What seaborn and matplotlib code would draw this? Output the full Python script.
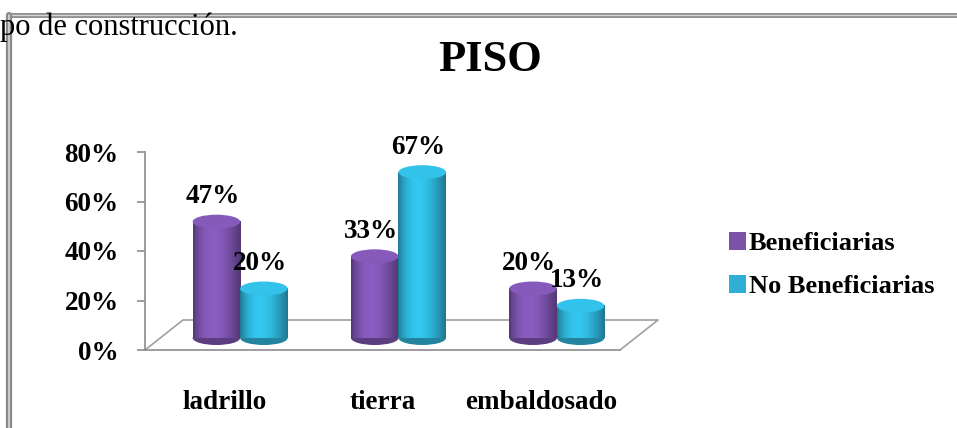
import numpy as np
import pandas as pd
import seaborn as sns
import matplotlib.pyplot as plt
from matplotlib.patches import Ellipse, Patch
from matplotlib.transforms import ScaledTranslation
from matplotlib.colors import to_rgb

categories = ["ladrillo", "tierra", "embaldosado"]
beneficiarias = [47, 33, 20]
no_beneficiarias = [20, 67, 13]
series = ["Beneficiarias", "No Beneficiarias"]
yticks = [0, 20, 40, 60, 80]

colors = ["#7a52aa", "#2eb0d4"]

df = pd.DataFrame({
    "tipo": categories * 2,
    "valor": beneficiarias + no_beneficiarias,
    "grupo": [series[0]] * 3 + [series[1]] * 3,
})

sns.set_style("white")
plt.rcParams["font.family"] = ["Liberation Serif", "DejaVu Serif"]
plt.rcParams["text.color"] = "black"
plt.rcParams["xtick.labelcolor"] = "black"
plt.rcParams["ytick.labelcolor"] = "black"

fs = 19.5

fig = plt.figure(figsize=(9.57, 4.28), dpi=100)
ax = fig.add_axes([145 / 957, 78 / 428, 475 / 957, 198 / 428])

sns.barplot(data=df, x="tipo", y="valor", hue="grupo", palette=colors,
            width=0.6, gap=0, legend=False, saturation=1, ax=ax)

ax.set_ylim(0, 80)
ax.set_xlim(-0.5, 2.5)
ax.set_yticks(yticks)
ax.set_yticklabels([f"{v}%" for v in yticks], fontsize=fs, fontweight="bold")
ax.set_xticks(range(3))
ax.set_xticklabels(categories, fontsize=fs, fontweight="bold")
ax.tick_params(axis="x", length=0, pad=29)
ax.set_xticks([-0.5, 0.5, 1.5, 2.5], minor=True)
ax.tick_params(axis="x", which="minor", length=6, color="#8c8c8c", width=1.2)
ax.tick_params(axis="y", length=6, color="#8c8c8c", width=1.2, pad=13, left=True)
ax.set_xlabel("")
ax.set_ylabel("")
for s in ["top", "right"]:
    ax.spines[s].set_visible(False)
for s in ["left", "bottom"]:
    ax.spines[s].set_color("#8c8c8c")
    ax.spines[s].set_linewidth(1.2)

# floor of the 3d box
ax.plot([0, 0.08, 1.08, 1.0], [0, 0.1515, 0.1515, 0], transform=ax.transAxes,
        color="#a0a0a0", lw=1.2, clip_on=False, zorder=0)

# shift bars into the floor depth
shift = ax.transData + ScaledTranslation(16 / 100, 12 / 100, fig.dpi_scale_trans)
px_per_unit = 198 / 80
cap_h = 14 / px_per_unit

bars = list(ax.patches)
for bar in bars:
    x0 = bar.get_x()
    w = bar.get_width()
    h = bar.get_height()
    base = np.array(to_rgb(bar.get_facecolor()))
    bar.set_visible(False)
    # cylinder shading
    shade = np.linspace(0, 1, 64)
    factor = 0.68 + 0.45 * np.sin(np.pi * shade ** 0.8)
    grad = np.clip(base[None, :] * factor[:, None], 0, 1)[None, :, :]
    ax.add_patch(Ellipse((x0 + w / 2, 0), w, cap_h, transform=shift,
                         facecolor=base * 0.75, edgecolor="none", zorder=2))
    ax.imshow(grad, extent=(x0, x0 + w, 0, h), transform=shift,
              aspect="auto", zorder=3, interpolation="bilinear")
    ax.add_patch(Ellipse((x0 + w / 2, h), w, cap_h, transform=shift,
                         facecolor=np.clip(base * 1.1, 0, 1), edgecolor="none", zorder=4))
    ax.annotate(f"{h:.0f}%", xy=(x0 + w / 2, h), xycoords=shift,
                xytext=(-4, 25), textcoords="offset pixels", ha="center",
                va="center", fontsize=fs, fontweight="bold", zorder=5,
                annotation_clip=False)

ax.set_xlim(-0.5, 2.5)
ax.set_ylim(0, 80)

fig.text(490 / 957, 1 - 60 / 428, "PISO", ha="center", va="center",
         fontsize=32, fontweight="bold")
fig.text(0, 1 - 27 / 428, "po de construcción.", ha="left", va="center", fontsize=22)

handles = [Patch(facecolor=c, edgecolor="none") for c in colors]
fig.legend(handles, series, loc="center left", bbox_to_anchor=(705 / 957, 1 - 265 / 428),
           frameon=False, handlelength=0.65, handleheight=0.65, handletextpad=0.1,
           labelspacing=0.75, prop={"size": 19, "weight": "bold"})

# page frame
fig.add_artist(plt.Line2D([10 / 957, 1], [1 - 15 / 428] * 2, color="#8a8a8a", lw=3.5))
fig.add_artist(plt.Line2D([10 / 957, 1], [1 - 15 / 428] * 2, color="#d8d8d8", lw=1))
fig.add_artist(plt.Line2D([9 / 957] * 2, [0, 1 - 15 / 428], color="#8a8a8a", lw=4.5))
fig.add_artist(plt.Line2D([9 / 957] * 2, [0, 1 - 15 / 428], color="#d8d8d8", lw=1.2))

fig.savefig("out.png", dpi=100)
